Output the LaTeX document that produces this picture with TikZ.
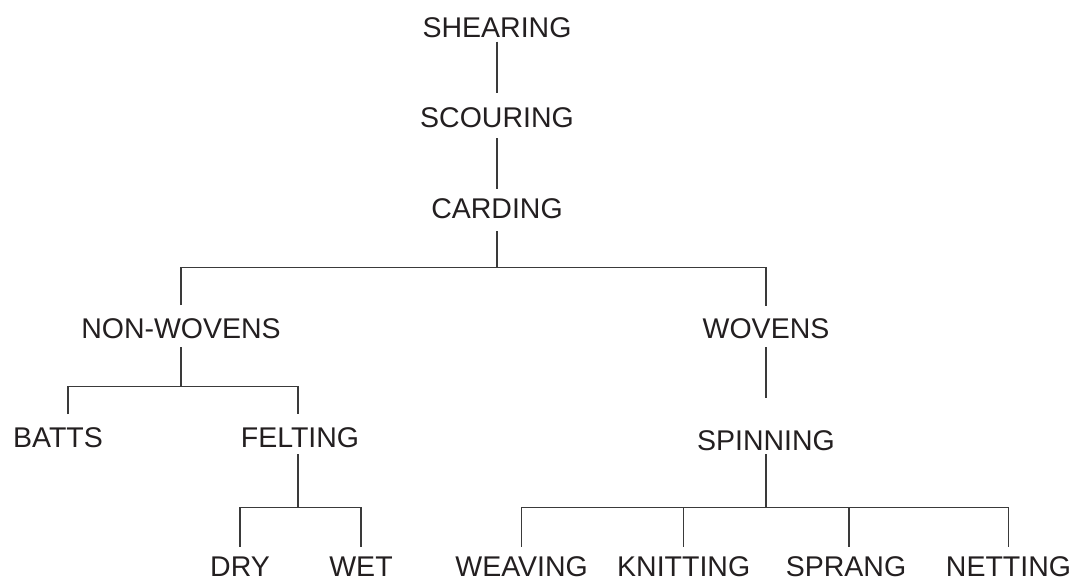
\documentclass[tikz,border=0pt]{standalone}
\usepackage{fontspec}
\setmainfont{Liberation Sans}
\usetikzlibrary{calc}
\definecolor{txt}{HTML}{231F20}
\definecolor{ln}{HTML}{3A3A3A}
\begin{document}
\begin{tikzpicture}[x=1pt,y=-1pt,
  lab/.style={anchor=base, inner sep=0pt, text height=20.5pt, text depth=0pt,
              font=\fontsize{28.5}{30}\selectfont, text=txt},
  conn/.style={draw=ln, line width=1.1pt}]
\useasboundingbox (0,0) rectangle (1084,582);
\fill[white] (0,0) rectangle (1084,582);

% nodes
\node[lab] (shear) at (497,37) {SHEARING};
\node[lab] (scour) at (497,127.3) {SCOURING};
\node[lab] (card) at (497,218) {CARDING};
\node[lab] (nonw) at (181,338) {NON-WOVENS};
\node[lab] (wov) at (766,338) {WOVENS};
\node[lab] (batts) at (58,447) {BATTS};
\node[lab] (felt) at (300,447) {FELTING};
\node[lab] (dry) at (240,576) {DRY};
\node[lab] (wet) at (361,576) {WET};
\node[lab] (spin) at (766,450) {SPINNING};
\node[lab] (weav) at (521.6,576) {WEAVING};
\node[lab] (knit) at (683.7,576) {KNITTING};
\node[lab] (sprang) at (846,576) {SPRANG};
\node[lab] (net) at (1008.5,576) {NETTING};

% junction coordinates
\coordinate (j0) at ($(card.base)+(0,49.3)$);
\coordinate (j1) at ($(nonw.base)+(0,48.7)$);
\coordinate (j2) at ($(felt.base)+(-2,60.7)$);
\coordinate (j3) at ($(spin.base)+(0,57.7)$);

% connectors
\draw[conn] ($(shear.base)+(0,4.7)$) -- ($(scour.base)+(0,-34.6)$);
\draw[conn] ($(scour.base)+(0,10.7)$) -- ($(card.base)+(0,-29)$);
\draw[conn] ($(card.base)+(0,13)$) -- (j0);
\draw[conn] ($(nonw.base)+(0,-33)$) |- (j0) -| ($(wov.base)+(0,-32)$);

\draw[conn] ($(nonw.base)+(0,9)$) -- (j1);
\draw[conn] ($(batts.base)+(10,-33)$) |- (j1) -| ($(felt.base)+(-2,-33)$);

\draw[conn] ($(felt.base)+(-2,7)$) -- (j2);
\draw[conn] ($(dry.base)+(0,-29.3)$) |- (j2) -| ($(wet.base)+(0,-29.3)$);

\draw[conn] ($(wov.base)+(0,9)$) -- ($(spin.base)+(0,-52)$);
\draw[conn] ($(spin.base)+(0,4)$) -- (j3);
\draw[conn] ($(weav.base)+(0,-29.3)$) |- (j3) -| ($(net.base)+(0,-29.3)$);
\draw[conn] ($(knit.base)+(0,-29.3)$) -- (knit.base |- j3);
\draw[conn] ($(sprang.base)+(3,-29.3)$) -- ($(sprang.base |- j3)+(3,0)$);
\end{tikzpicture}
\end{document}
